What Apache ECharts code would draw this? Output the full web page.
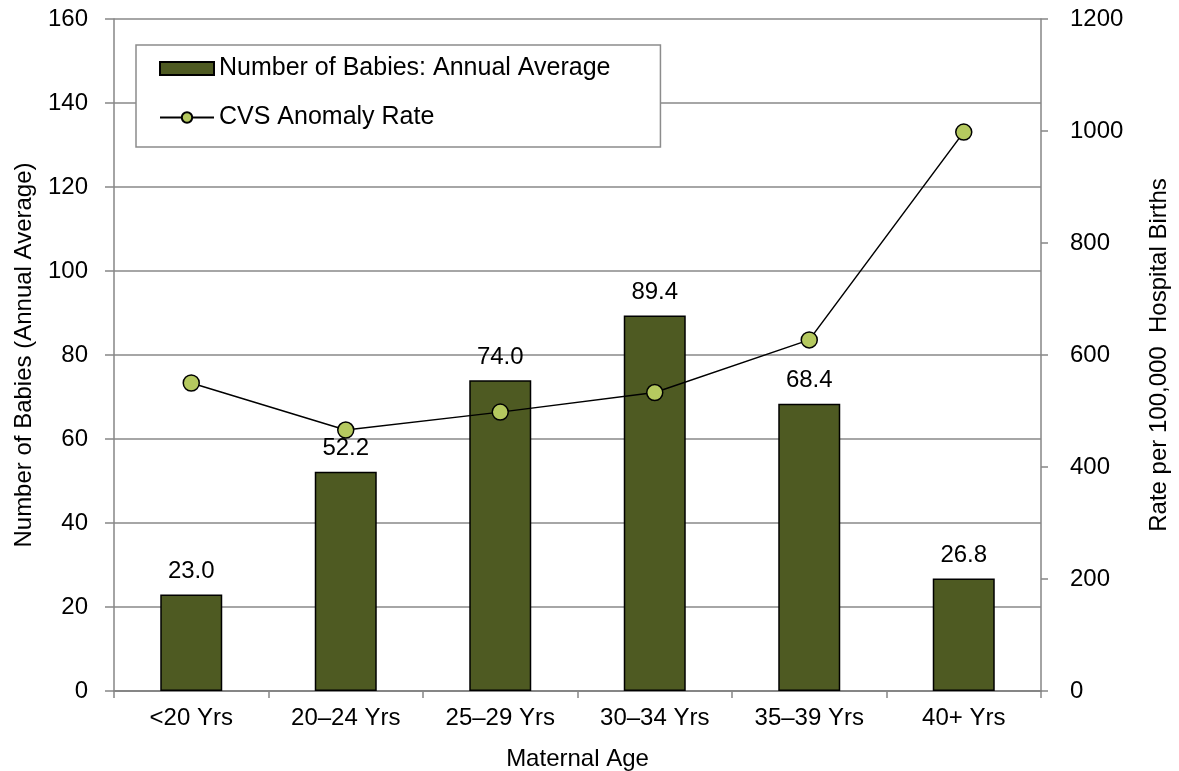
<!DOCTYPE html>
<html>
<head>
<meta charset="utf-8">
<script src="https://cdn.jsdelivr.net/npm/echarts@6/dist/echarts.min.js"></script>
<style>
  html, body { margin: 0; padding: 0; background: #fff; }
  #chart { width: 1179px; height: 771px; }
</style>
</head>
<body>
<div id="chart"></div>
<script>
// 数据
const ageGroups = ['<20 Yrs', '20–24 Yrs', '25–29 Yrs', '30–34 Yrs', '35–39 Yrs', '40+ Yrs']
const babiesAvg = [23.0, 52.2, 74.0, 89.4, 68.4, 26.8]
const anomalyRate = [550, 466, 498, 533, 627, 998]

const font = 'Liberation Sans, Arial, sans-serif'
const gridColor = '#a6a6a6'
const axisColor = '#868686'

const chart = echarts.init(document.getElementById('chart'))

const option = {
  animation: false,
  textStyle: { fontFamily: font, color: '#000' },
  grid: { left: 114, right: 138, top: 19, bottom: 80, outerBoundsMode: 'none', containLabel: false },
  legend: {
    orient: 'vertical',
    left: 136,
    top: 45,
    backgroundColor: '#fff',
    borderColor: '#8c8c8c',
    borderWidth: 1.5,
    padding: [11, 50, 17, 23],
    itemWidth: 54,
    itemHeight: 13,
    itemGap: 24,
    textStyle: { fontSize: 25, color: '#000', fontFamily: font },
    data: [
      { name: 'Number of Babies: Annual Average', icon: 'rect' },
      { name: 'CVS Anomaly Rate' }
    ]
  },
  xAxis: {
    type: 'category',
    data: ageGroups,
    name: 'Maternal Age',
    nameLocation: 'middle',
    nameGap: 56,
    nameTextStyle: { fontSize: 24, color: '#000' },
    axisLine: { lineStyle: { color: axisColor, width: 2 } },
    axisTick: { show: true, length: 7, lineStyle: { color: axisColor, width: 1.5 } },
    axisLabel: { fontSize: 24, color: '#000', margin: 15 }
  },
  yAxis: [
    {
      type: 'value',
      min: 0,
      max: 160,
      interval: 20,
      name: 'Number of Babies (Annual Average)',
      nameLocation: 'middle',
      nameGap: 78,
      nameTextStyle: { fontSize: 24, color: '#000' },
      axisLine: { show: true, lineStyle: { color: axisColor, width: 1.5 } },
      axisTick: { show: true, length: 9, lineStyle: { color: axisColor, width: 1.5 } },
      axisLabel: { fontSize: 24, color: '#000', margin: 26 },
      splitLine: { lineStyle: { color: gridColor, width: 2 } }
    },
    {
      type: 'value',
      min: 0,
      max: 1200,
      interval: 200,
      name: 'Rate per 100,000  Hospital Births',
      nameLocation: 'middle',
      nameGap: 106,
      nameTextStyle: { fontSize: 24, color: '#000' },
      axisLine: { show: true, lineStyle: { color: axisColor, width: 1.5 } },
      axisTick: { show: true, length: 7, lineStyle: { color: axisColor, width: 1.5 } },
      axisLabel: { fontSize: 24, color: '#000', margin: 29, formatter: v => String(v) },
      splitLine: { show: false }
    }
  ],
  series: [
    {
      name: 'Number of Babies: Annual Average',
      type: 'bar',
      data: babiesAvg,
      barWidth: 62,
      itemStyle: { color: '#4e5a22', borderColor: '#000', borderWidth: 1.5 },
      label: {
        show: true,
        position: 'top',
        distance: 11,
        fontSize: 24,
        color: '#000',
        fontFamily: font,
        formatter: p => p.value.toFixed(1)
      }
    },
    {
      name: 'CVS Anomaly Rate',
      type: 'line',
      yAxisIndex: 1,
      data: anomalyRate,
      symbol: 'circle',
      symbolSize: 16,
      lineStyle: { color: '#000', width: 1.5 },
      itemStyle: { color: '#b5c95f', borderColor: '#000', borderWidth: 1.5 },
      z: 5
    }
  ]
}

chart.setOption(option)
</script>
</body>
</html>
